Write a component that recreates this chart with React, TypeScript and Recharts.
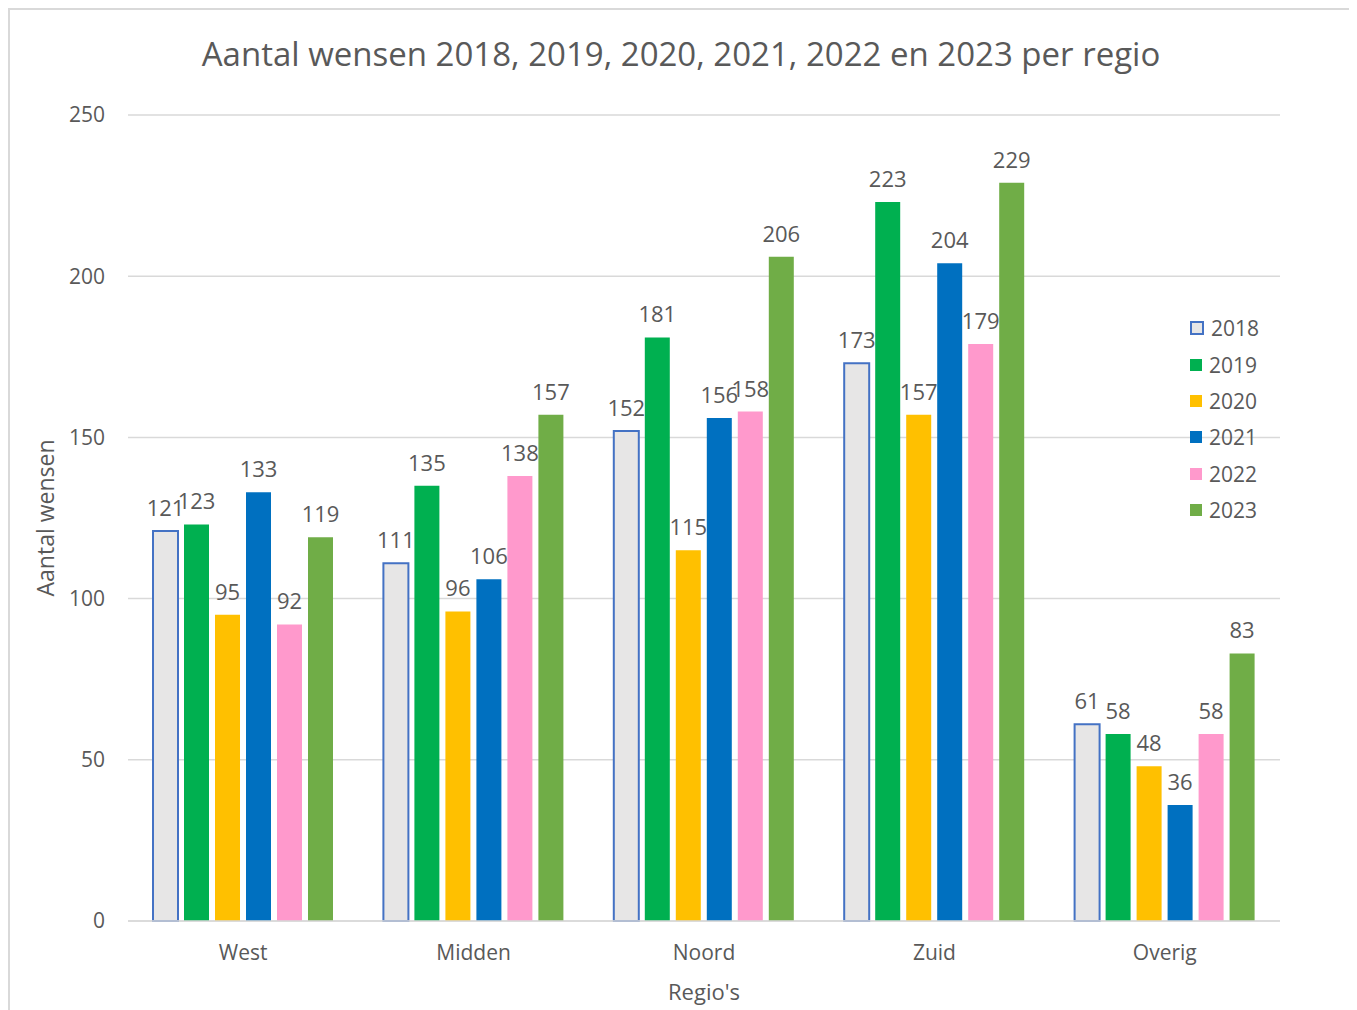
import { BarChart, Bar, XAxis, YAxis, CartesianGrid, LabelList, Legend } from 'recharts';

const regions = ['West', 'Midden', 'Noord', 'Zuid', 'Overig'];
const years = ['2018', '2019', '2020', '2021', '2022', '2023'];
const v2018 = [121, 111, 152, 173, 61];
const v2019 = [123, 135, 181, 223, 58];
const v2020 = [95, 96, 115, 157, 48];
const v2021 = [133, 106, 156, 204, 36];
const v2022 = [92, 138, 158, 179, 58];
const v2023 = [119, 157, 206, 229, 83];
const yTicks = [0, 50, 100, 150, 200, 250];

const fills = ['#E7E6E6', '#00B050', '#FFC000', '#0070C0', '#FF99CC', '#70AD47'];
const seriesValues = [v2018, v2019, v2020, v2021, v2022, v2023];

const data = regions.map((regio, i) => {
    const row: Record<string, string | number> = { regio };
    years.forEach((y, s) => { row[y] = seriesValues[s][i]; });
    return row;
});

const FONT = '"Open Sans", sans-serif';
const TEXT = '#595959';

const LegendBox = () => (
    <div style={{ fontFamily: FONT, fontSize: 21, color: TEXT }}>
        {years.map((y, i) => (
            <div key={y} style={{ height: 36.4, display: 'flex', alignItems: 'center' }}>
                <span style={{
                    width: i === 0 ? 10 : 12, height: i === 0 ? 10 : 12, background: fills[i],
                    border: i === 0 ? '2px solid #4472C4' : 'none', marginRight: 7, display: 'inline-block'
                }} />
                {y}
            </div>
        ))}
    </div>
);

export default function App() {
    return (
        <div style={{ position: 'relative', width: 1346, height: 1010, border: '2px solid #d9d9d9', boxSizing: 'border-box', background: '#fff' }}>
            <div style={{ position: 'absolute', top: 21, left: 0, width: '100%', textAlign: 'center', fontFamily: FONT, fontSize: 33, color: TEXT }}>
                Aantal wensen 2018, 2019, 2020, 2021, 2022 en 2023 per regio
            </div>
            <BarChart
                width={1342}
                height={1000}
                data={data}
                margin={{ top: 105, right: 72, bottom: 9, left: 38 }}
                barSize={25}
                barGap={6}
            >
                <CartesianGrid vertical={false} stroke="#d9d9d9" strokeWidth={1.5} />
                <XAxis
                    dataKey="regio"
                    height={80}
                    tickLine={false}
                    tickSize={0}
                    tickMargin={24}
                    axisLine={{ stroke: '#d9d9d9', strokeWidth: 1.5 }}
                    tick={{ fill: TEXT, fontSize: 21, fontFamily: FONT }}
                    label={{ value: "Regio's", position: 'insideBottom', offset: 1, fill: TEXT, fontSize: 22, fontFamily: FONT }}
                />
                <YAxis
                    width={80}
                    domain={[0, 250]}
                    ticks={yTicks}
                    tickLine={false}
                    axisLine={false}
                    tickSize={0}
                    tickMargin={23}
                    tick={{ fill: TEXT, fontSize: 21, fontFamily: FONT }}
                    label={{
                        content: (props: any) => {
                            const vb = props.viewBox || {};
                            const cx = vb.x - 3;
                            const cy = vb.y + vb.height / 2;
                            return (
                                <text x={cx} y={cy} transform={`rotate(-90 ${cx} ${cy})`} textAnchor="middle" dominantBaseline="central" fill={TEXT} fontSize={23} fontFamily={FONT}>
                                    Aantal wensen
                                </text>
                            );
                        }
                    }}
                />
                <Legend
                    layout="vertical"
                    align="center"
                    verticalAlign="middle"
                    content={<LegendBox />}
                    wrapperStyle={{ left: 1180, top: 300, width: 100 }}
                />
                {years.map((y, i) => (
                    <Bar
                        key={y}
                        dataKey={y}
                        fill={fills[i]}
                        stroke={i === 0 ? '#4472C4' : 'none'}
                        strokeWidth={2}
                        isAnimationActive={false}
                    >
                        <LabelList dataKey={y} position="top" offset={15} fill={TEXT} fontSize={22} fontFamily={FONT} />
                    </Bar>
                ))}
            </BarChart>
        </div>
    );
}
